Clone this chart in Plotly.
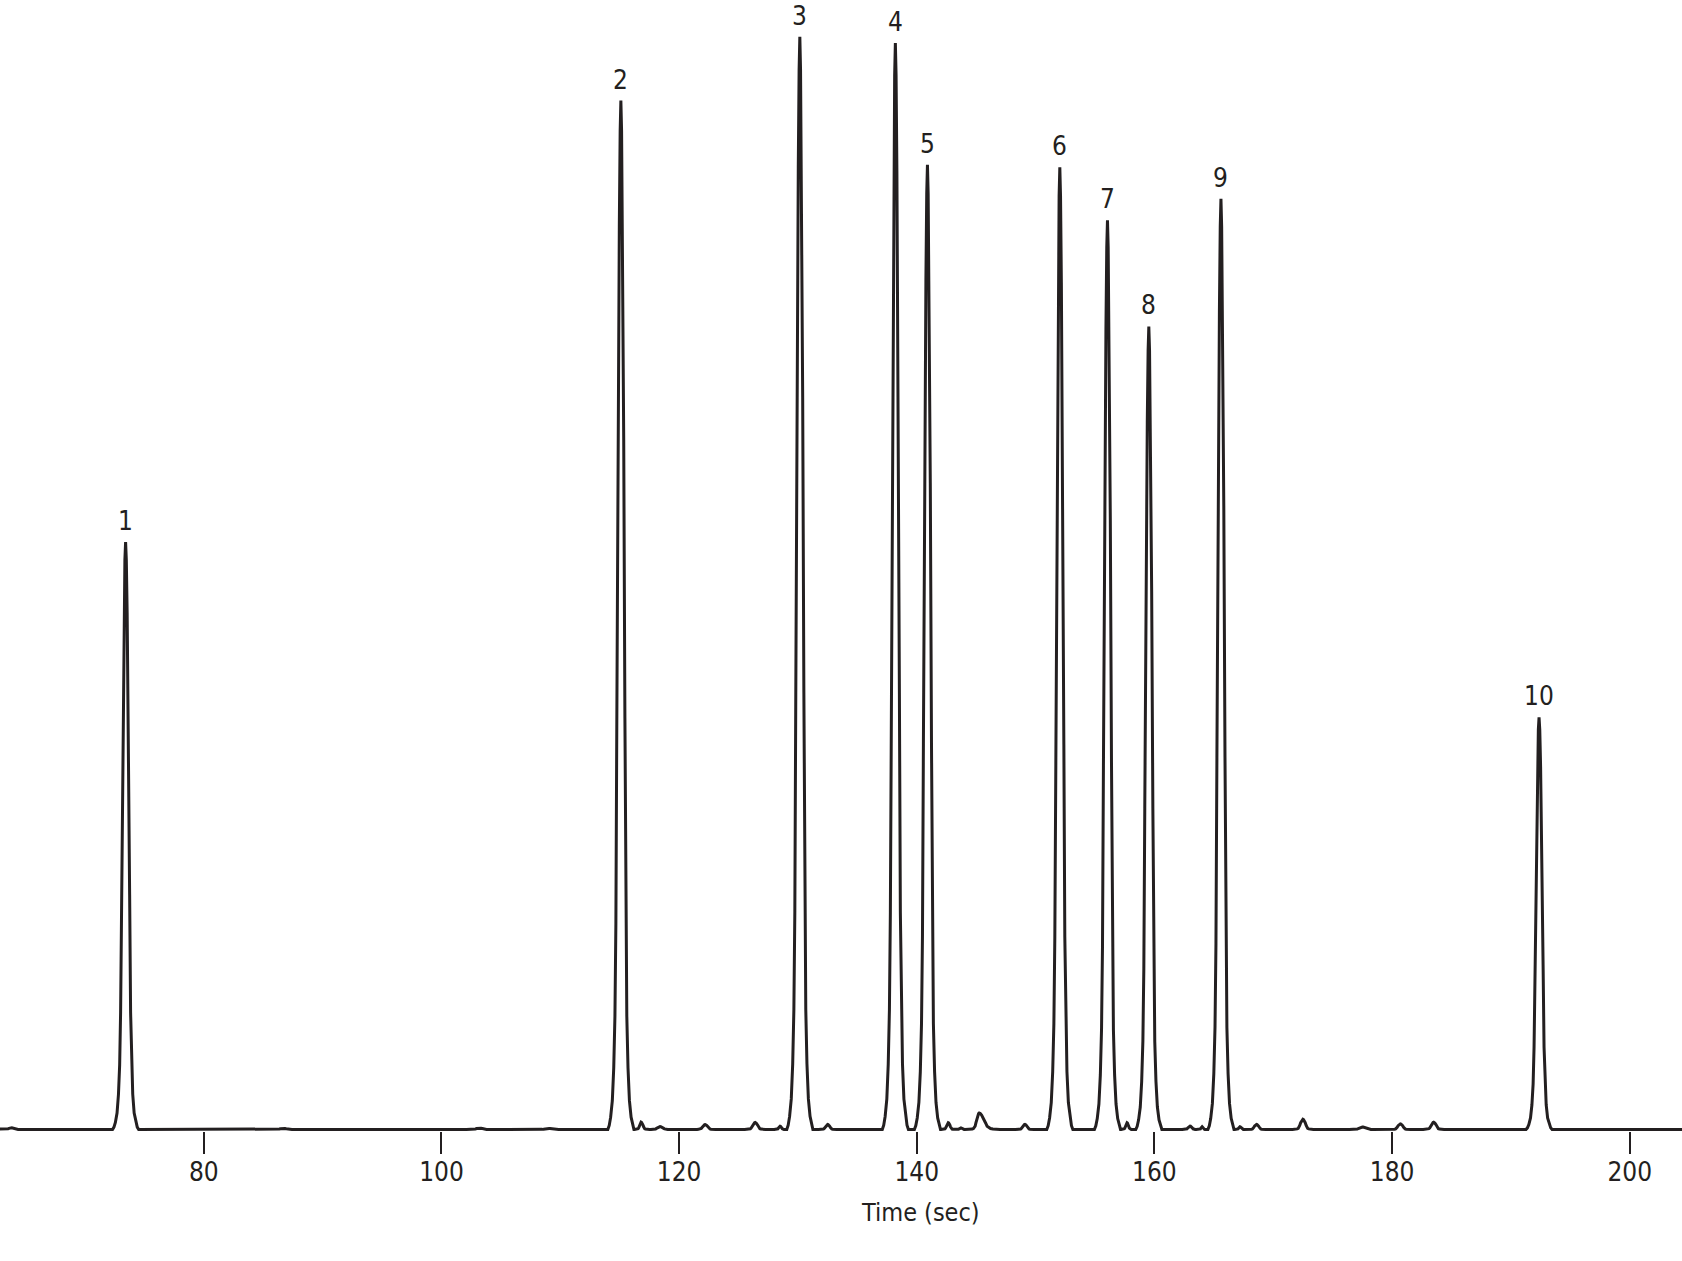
import plotly.graph_objects as go

# ---------------- data ----------------
PEAK_LABELS = ["1", "2", "3", "4", "5", "6", "7", "8", "9", "10"]
PEAK_TIMES = [73.42, 115.1, 130.16, 138.2, 140.9, 152.04, 156.05, 159.53, 165.6, 192.37]
PEAK_HEIGHTS = [52.0, 91.1, 96.75, 96.2, 85.4, 85.2, 80.5, 71.1, 82.4, 36.5]

# small unlabeled bumps on the baseline
MINOR_TIMES = [63.8, 86.7, 103.2, 109.0, 116.8, 118.4, 122.2, 126.4, 128.5, 132.5,
               142.65, 143.7, 145.25, 149.1, 157.7, 163.0, 164.0, 167.2, 168.6,
               172.5, 177.5, 180.7, 183.5]
MINOR_HEIGHTS = [0.15, 0.10, 0.12, 0.10, 0.65, 0.25, 0.44, 0.62, 0.30, 0.44,
                 0.60, 0.15, 1.45, 0.45, 0.60, 0.30, 0.25, 0.25, 0.45,
                 0.90, 0.22, 0.50, 0.65]
MINOR_WIDTH_LEFT = [0.8, 1.0, 1.0, 1.0, 0.5, 0.9, 0.8, 0.8, 0.45, 0.7,
                    0.55, 0.4, 0.8, 0.7, 0.45, 0.6, 0.3, 0.4, 0.7,
                    0.8, 1.0, 0.8, 0.8]
MINOR_WIDTH_RIGHT = [0.8, 1.0, 1.0, 1.0, 0.6, 0.9, 0.8, 0.8, 0.45, 0.7,
                     0.55, 0.4, 1.6, 0.7, 0.45, 0.6, 0.3, 0.4, 0.7,
                     0.8, 1.0, 0.8, 0.8]

# peak profile read from peak 1 (offset in s, fraction of apex height)
SHAPE_OFFSETS = [-1.1, -0.98, -0.86, -0.72, -0.6, -0.5, -0.42, -0.34, -0.24, -0.13, -0.06, 0.0,
                 0.06, 0.13, 0.24, 0.34, 0.42, 0.5, 0.6, 0.72, 0.86, 0.98, 1.1]
SHAPE_LEVELS = [0.0, 0.004, 0.012, 0.028, 0.06, 0.11, 0.20, 0.40, 0.67, 0.88, 0.97, 1.0,
                0.97, 0.88, 0.67, 0.40, 0.20, 0.11, 0.06, 0.028, 0.012, 0.004, 0.0]

TIME_START, TIME_END = 62.0, 205.5
X_TICKS = [80, 100, 120, 140, 160, 180, 200]
X_TITLE = "Time (sec)"

# ---------------- build the trace ----------------
peaks = [(t, h, 1.0, 1.0) for t, h in zip(PEAK_TIMES, PEAK_HEIGHTS)]
peaks += list(zip(MINOR_TIMES, MINOR_HEIGHTS, MINOR_WIDTH_LEFT, MINOR_WIDTH_RIGHT))
peaks.sort(key=lambda p: p[0])

xs = [TIME_START]
ys = [0.0]
for t, h, wl, wr in peaks:
    for off, lev in zip(SHAPE_OFFSETS, SHAPE_LEVELS):
        xs.append(t + off * (wl if off < 0 else wr))
        ys.append(h * lev)
xs.append(TIME_END)
ys.append(0.0)

INK = "#231f20"
FONT = "Liberation Sans Narrow, Arial Narrow, DejaVu Sans Condensed, sans-serif"

fig = go.Figure()
fig.add_trace(go.Scatter(x=xs, y=ys, mode="lines",
                         line=dict(color=INK, width=3),
                         hoverinfo="skip", showlegend=False))

for lab, t, h in zip(PEAK_LABELS, PEAK_TIMES, PEAK_HEIGHTS):
    fig.add_annotation(x=t, y=h, text=lab, showarrow=False, xref="x", yref="y",
                       yanchor="middle", yshift=21,
                       font=dict(family=FONT, size=26, color=INK))

fig.add_annotation(x=140.34, y=0, xref="x", yref="paper", text=X_TITLE,
                   showarrow=False, yanchor="middle", yshift=-81,
                   font=dict(family=FONT, size=25, color=INK))

fig.update_layout(
    width=1682, height=1261,
    margin=dict(l=0, r=0, t=0, b=130),
    paper_bgcolor="white", plot_bgcolor="white",
    showlegend=False,
    font=dict(family=FONT, size=26, color=INK),
    xaxis=dict(range=[62.85, 204.4], tickvals=X_TICKS, ticks="outside",
               ticklen=22, tickwidth=1.5, tickcolor=INK, showline=False,
               showgrid=False, zeroline=False, ticklabelstandoff=-4,
               tickfont=dict(family=FONT, size=26, color=INK)),
    yaxis=dict(range=[-0.133, 100], visible=False, showgrid=False, zeroline=False),
)

fig.write_html("out.html", config={"displayModeBar": False},
               post_script="document.body.style.margin='0';")
